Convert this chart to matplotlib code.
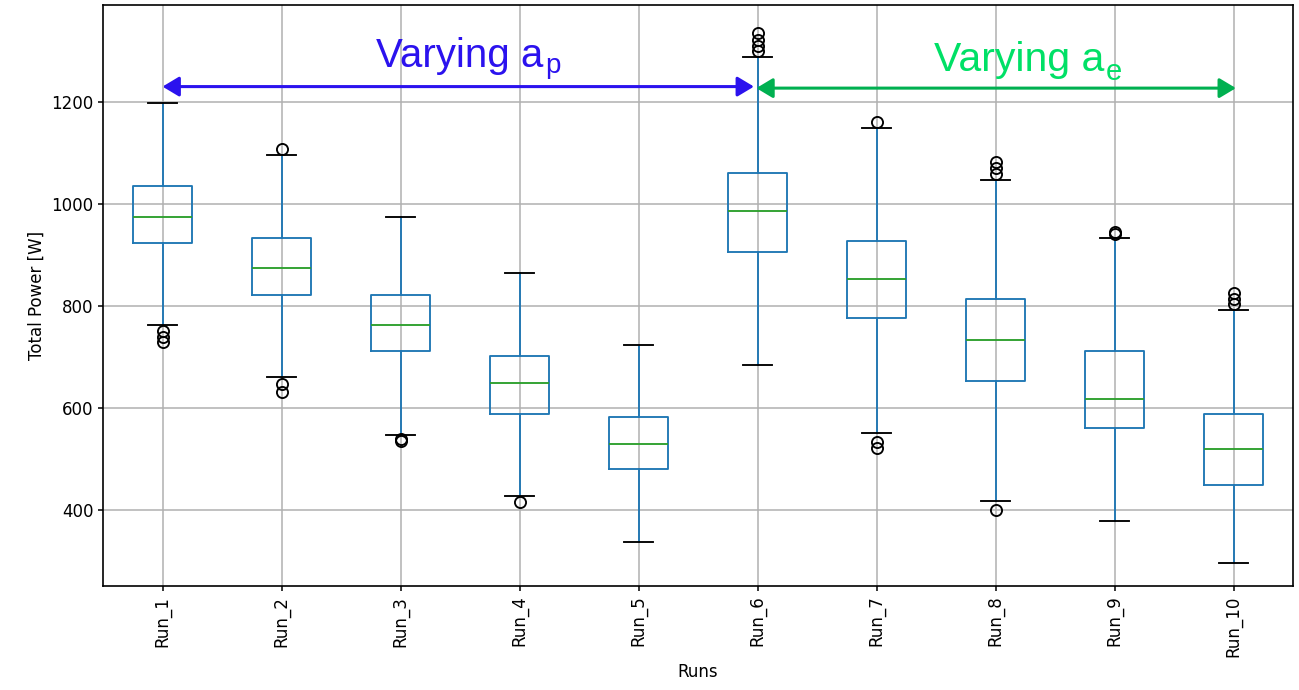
import matplotlib
matplotlib.use("Agg")
import matplotlib.pyplot as plt

# --------------- data ---------------
runs = ["Run_1", "Run_2", "Run_3", "Run_4", "Run_5",
        "Run_6", "Run_7", "Run_8", "Run_9", "Run_10"]
q1 = [923, 821, 712, 589, 480, 906, 776, 652, 561, 449]
med = [975, 874, 762, 649, 530, 987, 852, 733, 617, 519]
q3 = [1035, 934, 821, 702, 582, 1060, 927, 814, 712, 589]
whislo = [762, 660, 547, 427, 337, 684, 550, 417, 378, 297]
whishi = [1197, 1096, 975, 864, 723, 1288, 1148, 1046, 934, 793]
fliers = [[751, 740, 729],
          [1107, 647, 631],
          [540, 536],
          [416],
          [],
          [1300, 1309, 1322, 1335],
          [1160, 533, 521],
          [1082, 1070, 1058, 400],
          [945, 942],
          [825, 813, 803]]

stats = []
for i in range(len(runs)):
    stats.append(dict(label=runs[i], q1=q1[i], med=med[i], q3=q3[i],
                      whislo=whislo[i], whishi=whishi[i], fliers=fliers[i]))

# ********** 描写 **********
fig, ax = plt.subplots(figsize=(12.99, 6.90), dpi=100)
fig.subplots_adjust(left=0.0793, right=0.9954, bottom=0.1507, top=0.9928)

lw = 1.35
ax.bxp(stats, widths=0.5,
       boxprops=dict(color="C0", linewidth=lw),
       whiskerprops=dict(color="C0", linewidth=lw),
       medianprops=dict(color="C2", linewidth=lw),
       capprops=dict(color="k", linewidth=lw),
       flierprops=dict(marker="o", markersize=8, markerfacecolor="none",
                       markeredgecolor="k", markeredgewidth=lw))

ax.grid(True, linewidth=1.1)
for sp in ax.spines.values():
    sp.set_linewidth(1.2)
ax.set_ylim(251, 1390)
ax.set_xlim(0.5, 10.5)
ax.tick_params(axis="x", labelrotation=90, labelsize=12, width=1.1)
ax.tick_params(axis="y", labelsize=12, width=1.1)
ax.set_xlabel("Runs", fontsize=12)
ax.set_ylabel("Total Power [W]", fontsize=12)

# arrows + labels
blue = "#2b12ee"
green_line = "#00b050"
green_text = "#00e066"

ax.annotate("", xy=(5.97, 1230), xytext=(1.0, 1230),
            arrowprops=dict(arrowstyle="<|-|>,head_length=0.5,head_width=0.3",
                            color=blue, lw=2.2, shrinkA=0, shrinkB=0,
                            mutation_scale=20))
ax.annotate("", xy=(10.02, 1227), xytext=(5.99, 1227),
            arrowprops=dict(arrowstyle="<|-|>,head_length=0.5,head_width=0.3",
                            color=green_line, lw=2.2, shrinkA=0, shrinkB=0,
                            mutation_scale=20))

t1 = ax.text(2.79, 1269, "Varying a", color=blue,
             fontsize=29, family="Liberation Sans", ha="left", va="baseline")
ax.annotate("p", xy=(1, 0), xycoords=t1, xytext=(1.5, 1.4),
            textcoords="offset points", color=blue, fontsize=20,
            family="Liberation Sans", ha="left", va="baseline")
t2 = ax.text(7.48, 1261, "Varying a", color=green_text,
             fontsize=29.5, family="Liberation Sans", ha="left", va="baseline")
ax.annotate("e", xy=(1, 0), xycoords=t2, xytext=(1.5, -1.1),
            textcoords="offset points", color=green_text, fontsize=21,
            family="Liberation Sans", ha="left", va="baseline")

plt.savefig("out.png", dpi=100)
